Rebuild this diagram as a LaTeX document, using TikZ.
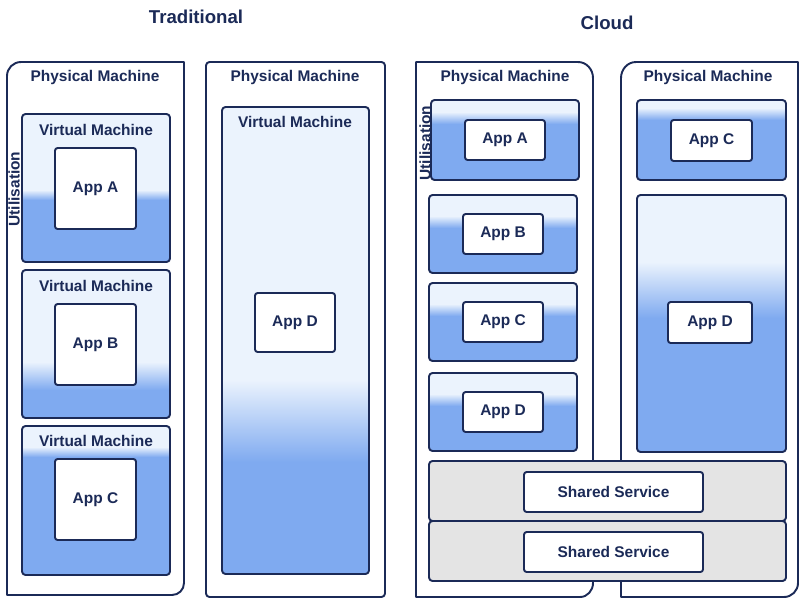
\documentclass[tikz,border=0pt]{standalone}
\usepackage{fontspec}
\setmainfont{Liberation Sans}

\definecolor{navy}{HTML}{1B2A57}
\definecolor{vmlight}{HTML}{EBF3FD}
\definecolor{vmblue}{HTML}{7FAAF0}
\definecolor{svgray}{HTML}{E4E4E4}

% virtual machine panel: x1 y1 x2 y2, fade from y5 to y6
\newcommand{\vmpanel}[6]{%
  \begin{scope}
    \clip[rounded corners=2] (#1,#2) rectangle (#3,#4);
    \fill[vmlight] (#1,#2) rectangle (#3,#5);
    \shade[top color=vmlight, bottom color=vmblue] (#1,#5) rectangle (#3,#6);
    \fill[vmblue] (#1,#6) rectangle (#3,#4);
  \end{scope}
  \draw[box, rounded corners=2] (#1,#2) rectangle (#3,#4);}

\begin{document}
\begin{tikzpicture}[x=0.02cm, y=-0.02cm,
    box/.style={draw=navy, line width=1.1pt, line join=round},
    appbox/.style={box, fill=white, rounded corners=1.5},
    label/.style={text=navy, font=\fontsize{8.8}{10}\selectfont\bfseries},
    title/.style={text=navy, font=\fontsize{10.6}{12}\selectfont\bfseries}]
    \useasboundingbox[fill=white] (0,0) rectangle (800,599);

    \node[title] (trad) at (196,17) {Traditional};
    \node[title] (cloud) at (607,23) {Cloud};

    % traditional: physical machines
    \draw[box] (100,62) -- (184,62) -- (184,583) to[out=-90,in=0] (172,595)
        -- (7,595) -- (7,76) to[out=90,in=180] (21,62) -- cycle;
    \draw[box, rounded corners=2] (206,62) rectangle (385,597);
    \node[label] (pm1) at (95,77) {Physical Machine};
    \node[label] (pm2) at (295,77) {Physical Machine};

    % one application per virtual machine
    \vmpanel{22}{114}{170}{262}{190}{200}
    \vmpanel{22}{270}{170}{418}{362}{390}
    \vmpanel{22}{426}{170}{575}{447}{457}
    \foreach \y/\t/\v in {130/A/a, 286/B/b, 441/C/c} {
        \node[label] (vm\v) at (96,\y) {Virtual Machine};
        \draw[appbox] (55,\y+18) rectangle (136,\y+99);
        \node[label] (app\t) at (95.5,\y+58.5) {App \t};
    }
    \node[label, rotate=90] (utilT) at (14,189) {Utilisation};

    \vmpanel{222}{107}{369}{574}{380}{462}
    \node[label] (vmd) at (295,122) {Virtual Machine};
    \draw[appbox] (255,293) rectangle (335,352);
    \node[label] (appD) at (295,322.5) {App D};

    % cloud: physical machines
    \draw[box] (416,62) -- (578,62) to[out=0,in=90] (593,78) -- (593,583)
        to[out=-90,in=0] (580,597) -- (416,597) -- cycle;
    \draw[box] (700,62) -- (798,62) -- (798,583) to[out=-90,in=0] (784,597)
        -- (621,597) -- (621,78) to[out=90,in=180] (636,62) -- cycle;
    \node[label] (pm3) at (505,77) {Physical Machine};
    \node[label] (pm4) at (708,77) {Physical Machine};

    \vmpanel{431}{100}{579}{180}{112}{124}
    \draw[appbox] (465,120) rectangle (545,160);
    \node[label] (cappA) at (505,140) {App A};
    \foreach \y/\t in {195/B, 283/C, 373/D} {
        \vmpanel{429}{\y}{577}{\y+78}{\y+21}{\y+33}
        \draw[appbox] (463,\y+19) rectangle (543,\y+59);
        \node[label] (capp\t) at (503,\y+39) {App \t};
    }
    \node[label, rotate=90] (utilC) at (425,143) {Utilisation};

    \vmpanel{637}{100}{786}{180}{108}{120}
    \draw[appbox] (671,120) rectangle (752,161);
    \node[label] (cappC2) at (711.5,140.5) {App C};
    \vmpanel{637}{195}{786}{452}{262}{318}
    \draw[appbox] (668,302) rectangle (752,343);
    \node[label] (cappD2) at (710,322.5) {App D};

    % shared services across both machines
    \foreach \y/\n in {461/1, 521/2} {
        \draw[box, fill=svgray, rounded corners=2] (429,\y) rectangle (786,\y+60);
        \draw[appbox] (524,\y+11) rectangle (703,\y+51);
        \node[label] (shared\n) at (613.5,\y+31) {Shared Service};
    }
\end{tikzpicture}
\end{document}
